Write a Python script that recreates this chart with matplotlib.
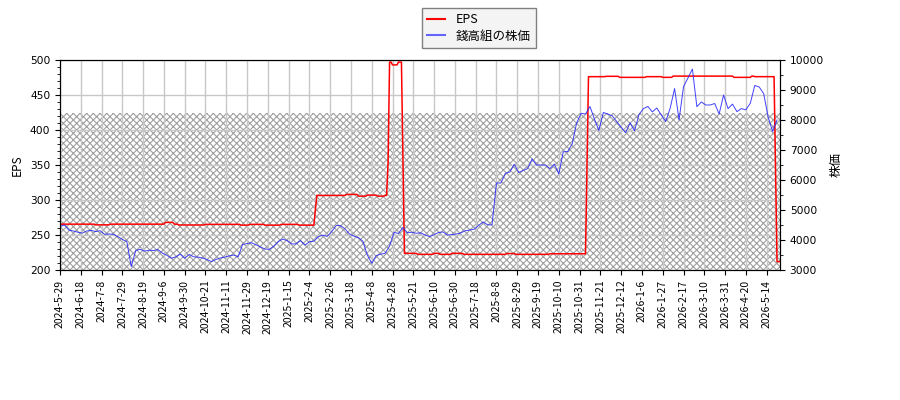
import numpy as np
import matplotlib
matplotlib.use('Agg')
import matplotlib.pyplot as plt
from matplotlib.ticker import MultipleLocator
from matplotlib.lines import Line2D

plt.rcParams['font.family'] = ['DejaVu Sans', 'Noto Sans CJK JP']

# ---------------- data ----------------
tick_labels = ['2024-5-29', '2024-6-18', '2024-7-8', '2024-7-29', '2024-8-19', '2024-9-6',
               '2024-9-30', '2024-10-21', '2024-11-11', '2024-11-29', '2024-12-19',
               '2025-1-15', '2025-2-4', '2025-2-26', '2025-3-18', '2025-4-8', '2025-4-28',
               '2025-5-21', '2025-6-10', '2025-6-30', '2025-7-18', '2025-8-8', '2025-8-29',
               '2025-9-19', '2025-10-10', '2025-10-31', '2025-11-21', '2025-12-12',
               '2026-1-6', '2026-1-27', '2026-2-17', '2026-3-10', '2026-3-31', '2026-4-20',
               '2026-5-14']
tick_step = 14          # trading days between labelled ticks
n_days = 486            # trading days shown

# EPS (daily, run-length encoded: level, number of trading days)
eps_levels = [265.5, 264.5, 265.5, 268.0, 265.5, 264.3, 265.2, 264.1, 265.2, 264.1,
              265.2, 264.1, 286.0, 306.5, 308.0, 305.5, 307.0, 305.5, 306.5, 354.0,
              497.0, 493.0, 497.0, 359.5, 223.8, 222.4, 223.8, 222.4, 223.8, 222.4,
              223.5, 222.4, 223.2, 350.0, 476.2, 476.7, 475.2, 476.2, 475.2, 477.0,
              475.2, 477.0, 476.2, 345.0, 212.0]
eps_runs = [24, 10, 37, 6, 3, 18, 24, 6, 10, 11,
            12, 11, 1, 20, 8, 6, 7, 5, 2, 1,
            2, 4, 3, 1, 9, 11, 4, 8, 8, 29,
            6, 23, 25, 1, 12, 9, 18, 11, 7, 41,
            12, 2, 14, 1, 3]

# share price, one reading every 3 trading days
price_step = 3
price = [4450, 4500, 4330, 4300, 4260, 4230, 4300, 4320, 4280, 4310,
         4190, 4200, 4190, 4110, 4020, 3950, 3111, 3650, 3690, 3630,
         3660, 3650, 3680, 3560, 3490, 3390, 3440, 3530, 3390, 3520,
         3440, 3430, 3400, 3350, 3280, 3350, 3400, 3430, 3470, 3500,
         3440, 3850, 3880, 3910, 3840, 3770, 3700, 3690, 3790, 3950,
         4030, 3980, 3870, 3870, 3980, 3830, 3944, 3960, 4110, 4160,
         4120, 4278, 4480, 4480, 4370, 4200, 4130, 4080, 3960, 3500,
         3222, 3480, 3530, 3556, 3800, 4250, 4220, 4420, 4240, 4260,
         4225, 4240, 4165, 4115, 4180, 4250, 4270, 4167, 4180, 4200,
         4235, 4310, 4333, 4360, 4490, 4600, 4510, 4500, 5900, 5900,
         6222, 6270, 6520, 6250, 6320, 6380, 6700, 6500, 6500, 6500,
         6380, 6530, 6200, 6940, 6950, 7200, 7900, 8222, 8200, 8450,
         8030, 7650, 8250, 8200, 8140, 7950, 7760, 7580, 7900, 7640,
         8180, 8380, 8450, 8270, 8400, 8170, 7950, 8389, 9050, 8000,
         9111, 9400, 9700, 8444, 8600, 8500, 8500, 8550, 8200, 8833,
         8380, 8530, 8278, 8380, 8340, 8560, 9150, 9100, 8880, 8100,
         7620, 8000]

hatch_top = 424         # EPS-axis level of the hatched band
eps_range = (200, 500)
price_range = (3000, 10000)

# ---------------- plot ----------------
eps = np.repeat(eps_levels, eps_runs)
x_eps = np.arange(len(eps))
x_price = np.arange(len(price)) * price_step

plt.rcParams['hatch.color'] = '#a0a0a0'
plt.rcParams['hatch.linewidth'] = 0.8

fig = plt.figure(figsize=(9, 4), dpi=100)
ax = fig.add_axes([60 / 900, 130 / 400, 720 / 900, 210 / 400])

ax.fill_between([0, n_days - 1], eps_range[0], hatch_top, facecolor='none',
                edgecolor='#a0a0a0', hatch='xxxxx', linewidth=0, zorder=0.5)
ax.plot(x_eps, eps, color='#ff0000', lw=1.1, zorder=3)

ax.set_xlim(0, n_days - 1)
ax.set_ylim(*eps_range)
ax.set_xticks(np.arange(len(tick_labels)) * tick_step)
ax.set_xticklabels(tick_labels, rotation=90, fontfamily='Noto Sans CJK JP', fontsize=7.5)
ax.yaxis.set_major_locator(MultipleLocator(50))
ax.yaxis.set_minor_locator(MultipleLocator(10))
ax.tick_params(axis='y', labelsize=7.7)
ax.grid(True, color='#c8c8c8', linewidth=1.0)
ax.set_ylabel('EPS', fontsize=8.5, fontfamily='Noto Sans CJK JP')

ax2 = ax.twinx()
ax2.plot(x_price, price, color='#2020ff', lw=0.7, alpha=0.85)
ax2.set_ylim(*price_range)
ax2.yaxis.set_major_locator(MultipleLocator(1000))
ax2.yaxis.set_minor_locator(MultipleLocator(500))
ax2.tick_params(axis='y', labelsize=7.7)
ax2.set_ylabel('株価', fontsize=9, fontfamily='Noto Sans CJK JP')
ax2.set_xlim(0, n_days - 1)

h1 = Line2D([], [], color='#ff0000', lw=1.5)
h2 = Line2D([], [], color='#6464ff', lw=1.5)
fig.legend([h1, h2], ['EPS', '錢高組の株価'], loc='upper left',
           bbox_to_anchor=(422 / 900, 1 - 8 / 400), bbox_transform=fig.transFigure,
           fancybox=False, edgecolor='#808080', facecolor='#f4f4f4', framealpha=1,
           prop={'family': 'Noto Sans CJK JP', 'size': 9}, handlelength=1.4,
           handletextpad=0.9, borderaxespad=0, labelspacing=0.3)

fig.savefig('out.png', dpi=100)
